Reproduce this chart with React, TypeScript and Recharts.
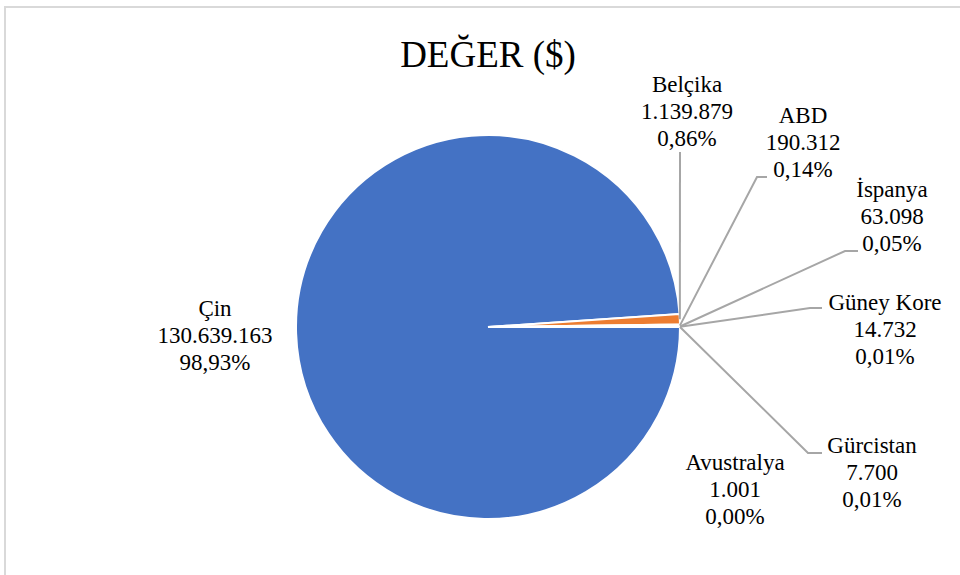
import React from "react";
import { PieChart, Pie, Cell } from "recharts";

// ülke bazında değerler ($)
const countries = ["Çin", "Belçika", "ABD", "İspanya", "Güney Kore", "Gürcistan", "Avustralya"];
const values = [130639163, 1139879, 190312, 63098, 14732, 7700, 1001];
const colors = ["#4472C4", "#ED7D31", "#A5A5A5", "#FFC000", "#5B9BD5", "#70AD47", "#264478"];

const title = "DEĞER ($)";

// label placement relative to pie center: text center, optional elbow + end of leader line
const labelLayout = [
  { dx: -273, dy: 8 },
  { dx: 199, dy: -216, line: [[192, -175]] },
  { dx: 315, dy: -185, line: [[269, -150], [279, -150]] },
  { dx: 404, dy: -111, line: [[357, -76], [370, -76]] },
  { dx: 397, dy: 2, line: [[322, -19], [334, -19]] },
  { dx: 384, dy: 145, line: [[320, 126], [334, 126]] },
  { dx: 247, dy: 162 },
];

const data = countries.map((name, i) => ({ name, value: values[i] }));
const total = values.reduce((a, b) => a + b, 0);

const FONT = '"Liberation Serif", "Times New Roman", serif';
const RAD = Math.PI / 180;

const fmtNum = (n: number) => String(n).replace(/\B(?=(\d{3})+(?!\d))/g, ".");
const fmtPct = (v: number) => ((v / total) * 100).toFixed(2).replace(".", ",") + "%";

function PieLabel(props: any) {
  const { cx, cy, midAngle, outerRadius, index, value, name } = props;
  const lay = labelLayout[index];
  if (!lay) return null;
  const ax = cx + outerRadius * Math.cos(-midAngle * RAD);
  const ay = cy + outerRadius * Math.sin(-midAngle * RAD);
  const tx = cx + lay.dx;
  const ty = cy + lay.dy;
  const pts = lay.line
    ? [[ax, ay], ...lay.line.map(([x, y]) => [cx + x, cy + y])].map((p) => p.join(",")).join(" ")
    : null;
  const lines = [name, fmtNum(value), fmtPct(value)];
  return (
    <g>
      {pts && <polyline points={pts} fill="none" stroke="#A6A6A6" strokeWidth={2} />}
      {lines.map((t, k) => (
        <text
          key={k}
          x={tx}
          y={ty + (k - 1) * 27 + 8}
          textAnchor="middle"
          fill="#000"
          fontFamily={FONT}
          fontSize={23}
        >
          {t}
        </text>
      ))}
    </g>
  );
}

export default function App() {
  return (
    <div
      style={{
        position: "fixed",
        left: 0,
        top: 0,
        width: 960,
        height: 575,
        overflow: "hidden",
        background: "#fff",
        fontFamily: FONT,
      }}
    >
      <div
        style={{
          position: "absolute",
          left: 4,
          top: 6,
          width: 1000,
          height: 620,
          border: "2px solid #D9D9D9",
          boxSizing: "border-box",
        }}
      />
      <svg width={960} height={575} style={{ position: "absolute", left: 0, top: 0 }}>
        <text x={488} y={67} textAnchor="middle" fontFamily={FONT} fontSize={37} fill="#000">
          {title}
        </text>
      </svg>
      <div style={{ position: "absolute", left: 0, top: 0 }}>
        <PieChart width={960} height={575} margin={{ top: 0, right: 0, bottom: 0, left: 0 }}>
          <Pie
            data={data}
            dataKey="value"
            nameKey="name"
            cx={488}
            cy={327}
            outerRadius={192}
            startAngle={0}
            endAngle={-360}
            stroke="#fff"
            strokeWidth={2}
            label={(p: any) => <PieLabel {...p} />}
            labelLine={false}
            isAnimationActive={false}
          >
            {data.map((d, i) => (
              <Cell key={d.name} fill={colors[i]} />
            ))}
          </Pie>
        </PieChart>
      </div>
    </div>
  );
}
